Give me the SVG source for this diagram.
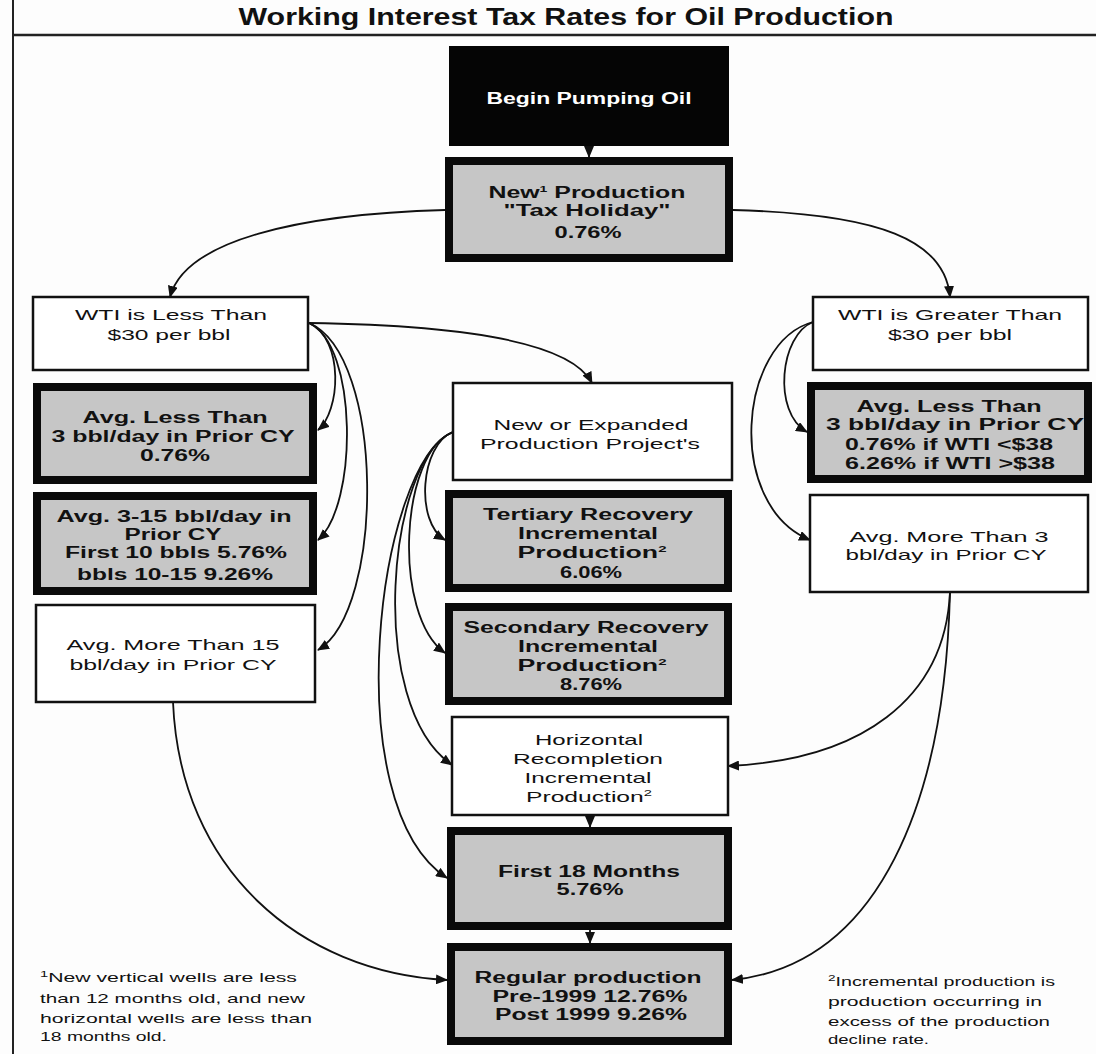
<svg xmlns="http://www.w3.org/2000/svg" width="1096" height="1054" viewBox="0 0 1096 1054">
<style>
.bg{fill:#fdfdfd}
.thin{fill:#ffffff;stroke:#111;stroke-width:2.5}
.thick{fill:#c6c6c6;stroke:#0a0a0a;stroke-width:8}
.blk{fill:#050505;stroke:#050505;stroke-width:2}
text{font-family:"Liberation Sans",Arial,sans-serif;text-anchor:middle;fill:#111}
.b{font-size:16px;font-weight:bold}
.n{font-size:15px}
.w{fill:#fff;font-size:16px;font-weight:bold}
.t{font-size:23px;font-weight:bold}
.f{font-size:13px;text-anchor:start}
.sup{font-size:9px}
.c{fill:none;stroke:#111;stroke-width:1.8}
</style>
<defs>
<marker id="ah" markerWidth="12" markerHeight="10" refX="11" refY="5" orient="auto" markerUnits="userSpaceOnUse">
<path d="M0,0 L12,5 L0,10 Z" fill="#111"/>
</marker>
</defs>
<rect class="bg" x="0" y="0" width="1096" height="1054"/>
<g id="frame">
<line x1="13" y1="0" x2="13" y2="1054" stroke="#222" stroke-width="2"/>
<line x1="13" y1="35" x2="1096" y2="35" stroke="#222" stroke-width="2.5"/>
<text class="t" x="566" y="25" textLength="655" lengthAdjust="spacingAndGlyphs">Working Interest Tax Rates for Oil Production</text>
</g>

<g id="connectors">
<path class="c" d="M589,145 L589,157" marker-end="url(#ah)"/>
<path class="c" d="M445,210 C300,214 185,240 170,297" marker-end="url(#ah)"/>
<path class="c" d="M733,210 C880,214 945,240 950,297" marker-end="url(#ah)"/>
<path class="c" d="M309,323 C450,325 570,340 592,383" marker-end="url(#ah)"/>
<path class="c" d="M309,323 C345,340 340,412 318,430" marker-end="url(#ah)"/>
<path class="c" d="M309,323 C358,345 358,505 318,540" marker-end="url(#ah)"/>
<path class="c" d="M309,323 C385,355 385,610 318,650" marker-end="url(#ah)"/>
<path class="c" d="M453,432 C420,445 415,522 445,540" marker-end="url(#ah)"/>
<path class="c" d="M453,432 C400,452 392,615 445,653" marker-end="url(#ah)"/>
<path class="c" d="M453,432 C388,458 365,705 452,765" marker-end="url(#ah)"/>
<path class="c" d="M453,432 C378,462 335,805 447,878" marker-end="url(#ah)"/>
<path class="c" d="M813,322 C780,335 772,412 807,432" marker-end="url(#ah)"/>
<path class="c" d="M813,322 C738,342 725,505 810,540" marker-end="url(#ah)"/>
<path class="c" d="M950,592 C945,700 860,760 728,766" marker-end="url(#ah)"/>
<path class="c" d="M950,592 C945,800 880,965 732,980" marker-end="url(#ah)"/>
<path class="c" d="M173,702 C180,870 300,972 447,980" marker-end="url(#ah)"/>
<path class="c" d="M590,815 L590,827" marker-end="url(#ah)"/>
<path class="c" d="M590,930 L590,943" marker-end="url(#ah)"/>
</g>

<g id="begin">
<rect class="blk" x="450" y="47" width="278" height="98"/>
<text class="w" x="589" y="104" textLength="205" lengthAdjust="spacingAndGlyphs">Begin Pumping Oil</text>
</g>
<g id="new-production">
<rect class="thick" x="449" y="161" width="280" height="97"/>
<text class="b" x="587" y="198" textLength="197" lengthAdjust="spacingAndGlyphs">New<tspan class="sup" dy="-6">1</tspan><tspan dy="6"> Production</tspan></text>
<text class="b" x="587" y="216" textLength="167" lengthAdjust="spacingAndGlyphs">"Tax Holiday"</text>
<text class="b" x="588" y="238" textLength="67" lengthAdjust="spacingAndGlyphs">0.76%</text>
</g>
<g id="wti-less">
<rect class="thin" x="33" y="297" width="275" height="73"/>
<text class="n" x="171" y="320" textLength="192" lengthAdjust="spacingAndGlyphs">WTI is Less  Than</text>
<text class="n" x="169" y="340" textLength="123" lengthAdjust="spacingAndGlyphs">$30 per bbl</text>
</g>
<g id="left-less3">
<rect class="thick" x="37" y="387" width="276" height="93"/>
<text class="b" x="175" y="423" textLength="185" lengthAdjust="spacingAndGlyphs">Avg. Less Than</text>
<text class="b" x="173" y="442" textLength="243" lengthAdjust="spacingAndGlyphs">3 bbl/day in Prior CY</text>
<text class="b" x="175" y="461" textLength="70" lengthAdjust="spacingAndGlyphs">0.76%</text>
</g>
<g id="left-3-15">
<rect class="thick" x="37" y="496" width="276" height="95"/>
<text class="b" x="174" y="522" textLength="235" lengthAdjust="spacingAndGlyphs">Avg. 3-15 bbl/day in</text>
<text class="b" x="173" y="540" textLength="97" lengthAdjust="spacingAndGlyphs">Prior CY</text>
<text class="b" x="176" y="558" textLength="222" lengthAdjust="spacingAndGlyphs">First 10 bbls 5.76%</text>
<text class="b" x="175" y="580" textLength="196" lengthAdjust="spacingAndGlyphs">bbls 10-15  9.26%</text>
</g>
<g id="left-more15">
<rect class="thin" x="36" y="605" width="279" height="97"/>
<text class="n" x="173" y="650" textLength="213" lengthAdjust="spacingAndGlyphs">Avg. More Than  15</text>
<text class="n" x="173" y="670" textLength="207" lengthAdjust="spacingAndGlyphs">bbl/day in Prior CY</text>
</g>
<g id="new-expanded">
<rect class="thin" x="453" y="383" width="279" height="97"/>
<text class="n" x="591" y="430" textLength="195" lengthAdjust="spacingAndGlyphs">New or Expanded</text>
<text class="n" x="590" y="449" textLength="220" lengthAdjust="spacingAndGlyphs">Production Project's</text>
</g>
<g id="tertiary">
<rect class="thick" x="449" y="494" width="279" height="94"/>
<text class="b" x="588" y="520" textLength="210" lengthAdjust="spacingAndGlyphs">Tertiary Recovery</text>
<text class="b" x="588" y="539" textLength="140" lengthAdjust="spacingAndGlyphs">Incremental</text>
<text class="b" x="592" y="558" textLength="149" lengthAdjust="spacingAndGlyphs">Production<tspan class="sup" dy="-6">2</tspan></text>
<text class="b" x="591" y="578" textLength="62" lengthAdjust="spacingAndGlyphs">6.06%</text>
</g>
<g id="secondary">
<rect class="thick" x="449" y="607" width="279" height="94"/>
<text class="b" x="586" y="633" textLength="245" lengthAdjust="spacingAndGlyphs">Secondary Recovery</text>
<text class="b" x="588" y="652" textLength="140" lengthAdjust="spacingAndGlyphs">Incremental</text>
<text class="b" x="592" y="671" textLength="149" lengthAdjust="spacingAndGlyphs">Production<tspan class="sup" dy="-6">2</tspan></text>
<text class="b" x="591" y="690" textLength="62" lengthAdjust="spacingAndGlyphs">8.76%</text>
</g>
<g id="horizontal">
<rect class="thin" x="452" y="717" width="276" height="98"/>
<text class="n" x="589" y="745" textLength="108" lengthAdjust="spacingAndGlyphs">Horizontal</text>
<text class="n" x="588" y="764" textLength="150" lengthAdjust="spacingAndGlyphs">Recompletion</text>
<text class="n" x="588" y="783" textLength="127" lengthAdjust="spacingAndGlyphs">Incremental</text>
<text class="n" x="589" y="802" textLength="126" lengthAdjust="spacingAndGlyphs">Production<tspan class="sup" dy="-6">2</tspan></text>
</g>
<g id="first18">
<rect class="thick" x="451" y="831" width="277" height="95"/>
<text class="b" x="589" y="877" textLength="182" lengthAdjust="spacingAndGlyphs">First 18 Months</text>
<text class="b" x="590" y="895" textLength="67" lengthAdjust="spacingAndGlyphs">5.76%</text>
</g>
<g id="regular">
<rect class="thick" x="451" y="947" width="277" height="94"/>
<text class="b" x="588" y="983" textLength="227" lengthAdjust="spacingAndGlyphs">Regular production</text>
<text class="b" x="590" y="1002" textLength="195" lengthAdjust="spacingAndGlyphs">Pre-1999 12.76%</text>
<text class="b" x="591" y="1020" textLength="192" lengthAdjust="spacingAndGlyphs">Post 1999  9.26%</text>
</g>
<g id="wti-greater">
<rect class="thin" x="813" y="297" width="275" height="73"/>
<text class="n" x="950" y="320" textLength="224" lengthAdjust="spacingAndGlyphs">WTI is Greater  Than</text>
<text class="n" x="950" y="340" textLength="124" lengthAdjust="spacingAndGlyphs">$30 per bbl</text>
</g>
<g id="right-less3">
<rect class="thick" x="811" y="386" width="277" height="93"/>
<text class="b" x="949" y="412" textLength="185" lengthAdjust="spacingAndGlyphs">Avg. Less Than</text>
<text class="b" x="955" y="430" textLength="258" lengthAdjust="spacingAndGlyphs">3 bbl/day in Prior CY</text>
<text class="b" x="949" y="450" textLength="208" lengthAdjust="spacingAndGlyphs">0.76% if WTI &lt;$38</text>
<text class="b" x="950" y="469" textLength="210" lengthAdjust="spacingAndGlyphs">6.26% if WTI &gt;$38</text>
</g>
<g id="right-more3">
<rect class="thin" x="810" y="495" width="278" height="97"/>
<text class="n" x="949" y="542" textLength="199" lengthAdjust="spacingAndGlyphs">Avg. More Than  3</text>
<text class="n" x="946" y="560" textLength="201" lengthAdjust="spacingAndGlyphs">bbl/day in Prior CY</text>
</g>
<g id="footnote1">
<text class="f" x="40" y="982" textLength="257" lengthAdjust="spacingAndGlyphs"><tspan class="sup" dy="-5">1</tspan><tspan dy="5">New vertical wells are less</tspan></text>
<text class="f" x="40" y="1003" textLength="265" lengthAdjust="spacingAndGlyphs">than 12 months old, and new</text>
<text class="f" x="40" y="1023" textLength="272" lengthAdjust="spacingAndGlyphs">horizontal wells are less than</text>
<text class="f" x="40" y="1041" textLength="127" lengthAdjust="spacingAndGlyphs">18 months old.</text>
</g>
<g id="footnote2">
<text class="f" x="828" y="986" textLength="227" lengthAdjust="spacingAndGlyphs"><tspan class="sup" dy="-5">2</tspan><tspan dy="5">Incremental production is</tspan></text>
<text class="f" x="828" y="1006" textLength="214" lengthAdjust="spacingAndGlyphs">production occurring in</text>
<text class="f" x="828" y="1026" textLength="222" lengthAdjust="spacingAndGlyphs">excess of the production</text>
<text class="f" x="828" y="1044" textLength="101" lengthAdjust="spacingAndGlyphs">decline rate.</text>
</g>
</svg>
